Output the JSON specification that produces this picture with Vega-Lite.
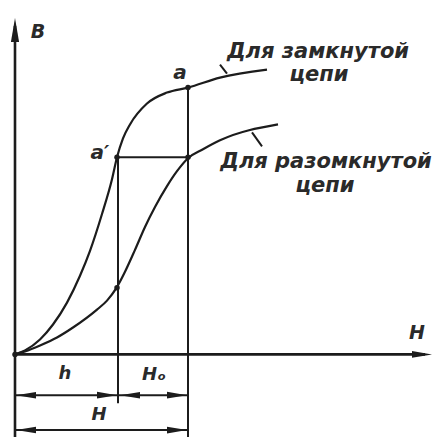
{
  "$schema": "https://vega.github.io/schema/vega-lite/v6.json",
  "width": 435,
  "height": 439,
  "padding": 0,
  "autosize": {"type": "fit", "contains": "padding"},
  "background": "white",
  "config": {"view": {"stroke": null}},
  "datasets": {
    "curves": [
      {"circuit": "closed", "H": 0, "B": 0},
      {"circuit": "closed", "H": 10, "B": 4},
      {"circuit": "closed", "H": 25, "B": 15},
      {"circuit": "closed", "H": 38, "B": 30},
      {"circuit": "closed", "H": 52, "B": 52},
      {"circuit": "closed", "H": 65, "B": 79},
      {"circuit": "closed", "H": 75, "B": 104},
      {"circuit": "closed", "H": 87, "B": 141},
      {"circuit": "closed", "H": 97, "B": 176},
      {"circuit": "closed", "H": 102, "B": 198},
      {"circuit": "closed", "H": 108, "B": 217},
      {"circuit": "closed", "H": 115, "B": 231},
      {"circuit": "closed", "H": 132, "B": 252},
      {"circuit": "closed", "H": 152, "B": 263},
      {"circuit": "closed", "H": 173, "B": 268},
      {"circuit": "closed", "H": 205, "B": 278},
      {"circuit": "closed", "H": 252, "B": 286},
      {"circuit": "open", "H": 0, "B": 0},
      {"circuit": "open", "H": 10, "B": 3},
      {"circuit": "open", "H": 25, "B": 9},
      {"circuit": "open", "H": 42, "B": 17},
      {"circuit": "open", "H": 58, "B": 27},
      {"circuit": "open", "H": 82, "B": 45},
      {"circuit": "open", "H": 92, "B": 54},
      {"circuit": "open", "H": 101, "B": 66},
      {"circuit": "open", "H": 110, "B": 83},
      {"circuit": "open", "H": 120, "B": 105},
      {"circuit": "open", "H": 130, "B": 128},
      {"circuit": "open", "H": 140, "B": 148},
      {"circuit": "open", "H": 152, "B": 169},
      {"circuit": "open", "H": 162, "B": 184},
      {"circuit": "open", "H": 173, "B": 197},
      {"circuit": "open", "H": 188, "B": 206},
      {"circuit": "open", "H": 205, "B": 215},
      {"circuit": "open", "H": 263, "B": 231}
    ],
    "axes": [
      {"part": "B axis", "x": 0, "x2": 0, "y": -83, "y2": 330},
      {"part": "H axis", "x": 0, "x2": 410, "y": 0, "y2": 0}
    ],
    "segments": [
      {"part": "H' at a'", "x": 103, "x2": 103, "y": 198, "y2": -49},
      {"part": "H at a", "x": 173, "x2": 173, "y": 268, "y2": -83},
      {"part": "a' to open curve", "x": 102, "x2": 173, "y": 198, "y2": 198},
      {"part": "dim h", "x": 0, "x2": 103, "y": -41, "y2": -41},
      {"part": "dim Ho", "x": 103, "x2": 173, "y": -41, "y2": -41},
      {"part": "dim H", "x": 0, "x2": 173, "y": -76, "y2": -76},
      {"part": "leader closed", "x": 205, "x2": 212, "y": 291, "y2": 282},
      {"part": "leader open", "x": 237, "x2": 247, "y": 223, "y2": 209}
    ],
    "arrowsLeft": [
      {"x": 1, "y": -41},
      {"x": 105, "y": -41},
      {"x": 1, "y": -76}
    ],
    "arrowsRight": [
      {"x": 102, "y": -41},
      {"x": 172, "y": -41},
      {"x": 172, "y": -76},
      {"x": 417, "y": 0}
    ],
    "arrowsUp": [
      {"x": 0, "y": 338}
    ],
    "dots": [
      {"x": 0, "y": 0},
      {"x": 173, "y": 268},
      {"x": 102, "y": 198},
      {"x": 173, "y": 198},
      {"x": 102, "y": 67}
    ],
    "labels": [
      {"x": 303, "y": 304, "text": "Для замкнутой", "kind": "curve"},
      {"x": 304, "y": 281, "text": "цепи", "kind": "curve"},
      {"x": 311, "y": 193, "text": "Для разомкнутой", "kind": "curve"},
      {"x": 310, "y": 169, "text": "цепи", "kind": "curve"},
      {"x": 165, "y": 283, "text": "a", "kind": "point"},
      {"x": 85, "y": 202, "text": "a′", "kind": "point"},
      {"x": 23, "y": 324, "text": "B", "kind": "axis"},
      {"x": 402, "y": 21, "text": "H", "kind": "axis"},
      {"x": 50, "y": -20, "text": "h", "kind": "dim"},
      {"x": 139, "y": -21, "text": "Hₒ", "kind": "dim"},
      {"x": 84, "y": -61, "text": "H", "kind": "dim"}
    ]
  },
  "layer": [
    {
      "data": {"name": "axes"},
      "mark": {"type": "rule", "color": "#1c1c1c", "strokeWidth": 2.6},
      "encoding": {
        "x": {"field": "x", "type": "quantitative", "scale": {"domain": [-15, 420], "nice": false, "zero": false}, "axis": null},
        "x2": {"field": "x2"},
        "y": {"field": "y", "type": "quantitative", "scale": {"domain": [-83, 356], "nice": false, "zero": false}, "axis": null},
        "y2": {"field": "y2"}
      }
    },
    {
      "data": {"name": "segments"},
      "mark": {"type": "rule", "color": "#1c1c1c", "strokeWidth": 2},
      "encoding": {
        "x": {"field": "x", "type": "quantitative"},
        "x2": {"field": "x2"},
        "y": {"field": "y", "type": "quantitative"},
        "y2": {"field": "y2"}
      }
    },
    {
      "data": {"name": "curves"},
      "mark": {"type": "line", "interpolate": "monotone", "color": "#1c1c1c", "strokeWidth": 2.2},
      "encoding": {
        "x": {"field": "H", "type": "quantitative"},
        "y": {"field": "B", "type": "quantitative"},
        "detail": {"field": "circuit"},
        "order": {"field": "H"}
      }
    },
    {
      "data": {"name": "arrowsLeft"},
      "mark": {"type": "point", "shape": "M0,0L1,-0.16L1,0.16Z", "filled": true, "color": "#1c1c1c", "opacity": 1, "size": 1600},
      "encoding": {
        "x": {"field": "x", "type": "quantitative"},
        "y": {"field": "y", "type": "quantitative"}
      }
    },
    {
      "data": {"name": "arrowsRight"},
      "mark": {"type": "point", "shape": "M0,0L-1,-0.17L-1,0.17Z", "filled": true, "color": "#1c1c1c", "opacity": 1, "size": 1600},
      "encoding": {
        "x": {"field": "x", "type": "quantitative"},
        "y": {"field": "y", "type": "quantitative"}
      }
    },
    {
      "data": {"name": "arrowsUp"},
      "mark": {"type": "point", "shape": "M0,0L-0.17,1L0.17,1Z", "filled": true, "color": "#1c1c1c", "opacity": 1, "size": 2304},
      "encoding": {
        "x": {"field": "x", "type": "quantitative"},
        "y": {"field": "y", "type": "quantitative"}
      }
    },
    {
      "data": {"name": "dots"},
      "mark": {"type": "point", "filled": true, "color": "#1c1c1c", "opacity": 1, "size": 30},
      "encoding": {
        "x": {"field": "x", "type": "quantitative"},
        "y": {"field": "y", "type": "quantitative"}
      }
    },
    {
      "data": {"name": "labels"},
      "mark": {"type": "text", "font": "DejaVu Sans", "fontStyle": "italic", "fontWeight": "bold", "color": "#2a2a2a", "align": "center", "baseline": "middle"},
      "encoding": {
        "x": {"field": "x", "type": "quantitative"},
        "y": {"field": "y", "type": "quantitative"},
        "text": {"field": "text"},
        "size": {
          "field": "kind", "type": "nominal", "legend": null,
          "scale": {"domain": ["curve", "point", "axis", "dim"], "range": [21, 18, 22, 20]}
        }
      }
    }
  ]
}
